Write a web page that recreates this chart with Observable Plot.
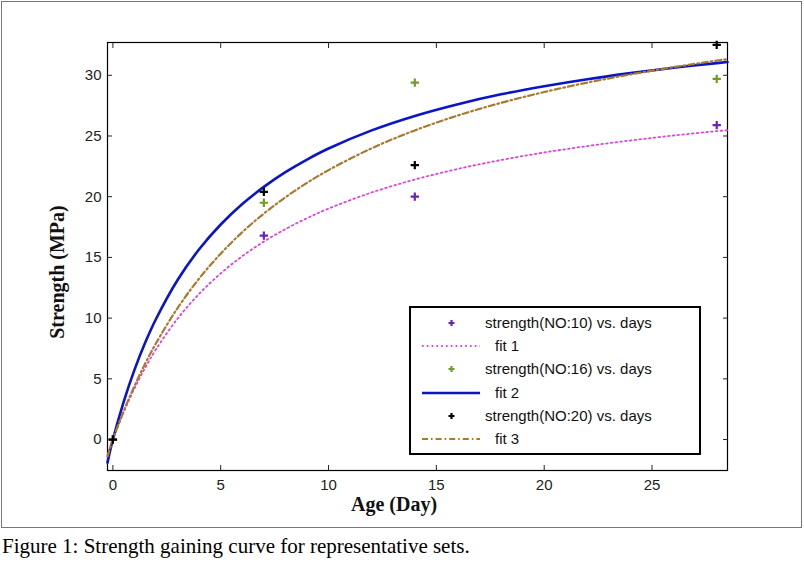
<!DOCTYPE html>
<html>
<head>
<meta charset="utf-8">
<script src="https://cdn.jsdelivr.net/npm/d3@7"></script>
<script src="https://cdn.jsdelivr.net/npm/@observablehq/plot@0.6"></script>
<style>
  body { margin: 0; background: #fff; }
  #wrap { position: relative; width: 804px; height: 562px; }
  #frame { position: absolute; left: 1px; top: 1px; width: 799px; height: 525px; border: 1.5px solid #777; box-sizing: content-box; }
  #chart { position: absolute; left: 0; top: 0; }
  #legend { position: absolute; left: 409px; top: 306px; width: 288px; height: 145px; border: 2px solid #000; background: #fff; font-family: Arial, "Liberation Sans", sans-serif; font-size: 15px; color: #111; }
  .row { position: absolute; left: 0; height: 22px; width: 100%; }
  .row svg { position: absolute; left: 8px; top: 0; }
  .row span { position: absolute; top: 2px; white-space: nowrap; }
  .axlabel { position: absolute; font-family: "Liberation Serif", "Times New Roman", serif; font-weight: bold; font-size: 20px; color: #111; white-space: nowrap; }
  #xlabel { left: 394px; top: 493px; transform: translateX(-50%); }
  #ylabel { left: 57px; top: 272px; transform: translate(-50%, -50%) rotate(-90deg); }
  #caption { position: absolute; left: 2px; top: 534px; font-family: "Liberation Serif", "Times New Roman", serif; font-size: 21px; color: #000; }
</style>
</head>
<body>
<div id="wrap">
  <div id="frame"></div>
  <div id="chart"></div>
  <div id="legend"></div>
  <div class="axlabel" id="xlabel">Age (Day)</div>
  <div class="axlabel" id="ylabel">Strength (MPa)</div>
  <div id="caption">Figure 1: Strength gaining curve for representative sets.</div>
</div>
<script>
// Measured points (days, MPa)
const days = [0, 7, 14, 28];
const no10 = [0, 16.8, 20.0, 25.9];
const no16 = [0, 19.5, 29.4, 29.7];
const no20 = [0, 20.4, 22.6, 32.5];

// Fit curves
const fitX = [-0.25, 0, 0.5, 1, 1.5, 2, 3, 4, 5, 6, 7, 8, 9, 10, 12, 14, 16, 18, 20, 22, 24, 26, 28, 28.5];
const fit1 = [-1.27, 0, 2.26, 4.22, 5.92, 7.43, 9.96, 12.0, 13.68, 15.10, 16.30, 17.33, 18.23, 19.02, 20.35, 21.41, 22.29, 23.02, 23.64, 24.17, 24.63, 25.04, 25.40, 25.48];
const fit2 = [-1.9, 0, 3.11, 5.74, 7.99, 9.93, 13.14, 15.67, 17.71, 19.40, 20.81, 22.02, 23.06, 23.97, 25.46, 26.65, 27.62, 28.43, 29.10, 29.68, 30.18, 30.62, 31.00, 31.09];
const fit3 = [-1.4, 0, 2.33, 4.40, 6.26, 7.93, 10.83, 13.26, 15.31, 17.08, 18.61, 19.95, 21.14, 22.19, 23.99, 25.46, 26.69, 27.73, 28.62, 29.40, 30.07, 30.67, 31.21, 31.33];

const xTicks = [0, 5, 10, 15, 20, 25];
const yTicks = [0, 5, 10, 15, 20, 25, 30];

const seriesPts = [
  {name: "strength(NO:10) vs. days", vals: no10, color: "#6a22b8"},
  {name: "strength(NO:16) vs. days", vals: no16, color: "#6f9e22"},
  {name: "strength(NO:20) vs. days", vals: no20, color: "#000000"}
];
const fits = [
  {name: "fit 1", vals: fit1, color: "#e040e0", width: 1.8, dash: "1.6,3.2"},
  {name: "fit 2", vals: fit2, color: "#0a14c8", width: 2.6, dash: null},
  {name: "fit 3", vals: fit3, color: "#a87a30", width: 2.2, dash: "6,3,1.6,3"}
];

const pts = seriesPts.flatMap(s => days.map((d, i) => ({x: d, y: s.vals[i], s: s.name, color: s.color})));

const marks = [
  Plot.frame({stroke: "#000", strokeWidth: 1.2}),
  Plot.axisX({anchor: "bottom", ticks: xTicks, tickSize: -5, tickPadding: 14, fontSize: 15, label: null}),
  Plot.axisX({anchor: "top", ticks: xTicks, tickSize: -5, tickFormat: () => "", label: null}),
  Plot.axisY({anchor: "left", ticks: yTicks, tickSize: -5, tickPadding: 11, fontSize: 15, label: null}),
  Plot.axisY({anchor: "right", ticks: yTicks, tickSize: -5, tickFormat: () => "", label: null})
];
for (const f of fits) {
  marks.push(Plot.line(fitX.map((x, i) => ({x, y: f.vals[i]})), {x: "x", y: "y", stroke: f.color, strokeWidth: f.width, strokeDasharray: f.dash, curve: "catmull-rom"}));
}
for (const s of seriesPts) {
  marks.push(Plot.dot(pts.filter(p => p.s === s.name), {x: "x", y: "y", symbol: "plus", r: 2.8, stroke: s.color, strokeWidth: 2.2}));
}

const plot = Plot.plot({
  width: 804, height: 528,
  marginLeft: 107, marginRight: 77, marginTop: 42, marginBottom: 58,
  style: {background: "transparent", fontFamily: "Arial, 'Liberation Sans', sans-serif", color: "#222"},
  x: {domain: [-0.25, 28.5]},
  y: {domain: [-2.55, 32.7]},
  marks
});
document.getElementById("chart").appendChild(plot);

d3.select(plot).selectAll('[aria-label="x-axis tick label"] text, [aria-label="y-axis tick label"] text').attr("fill", "#222");

// Legend
const legend = d3.select("#legend");
const order = [
  {type: "pt", s: seriesPts[0]}, {type: "ln", s: fits[0]},
  {type: "pt", s: seriesPts[1]}, {type: "ln", s: fits[1]},
  {type: "pt", s: seriesPts[2]}, {type: "ln", s: fits[2]}
];
order.forEach((o, i) => {
  const row = legend.append("div").attr("class", "row").style("top", (4 + i * 23.2) + "px");
  const sv = row.append("svg").attr("width", 64).attr("height", 22);
  if (o.type === "pt") {
    sv.append("path").attr("d", "M29.5,11h6M32.5,8v6").attr("stroke", o.s.color).attr("stroke-width", 2.2);
    row.append("span").style("left", "74px").text(o.s.name);
  } else {
    sv.append("line").attr("x1", 3).attr("x2", 61).attr("y1", 11).attr("y2", 11)
      .attr("stroke", o.s.color).attr("stroke-width", o.s.width).attr("stroke-dasharray", o.s.dash);
    row.append("span").style("left", "84px").text(o.s.name);
  }
});
</script>
</body>
</html>
